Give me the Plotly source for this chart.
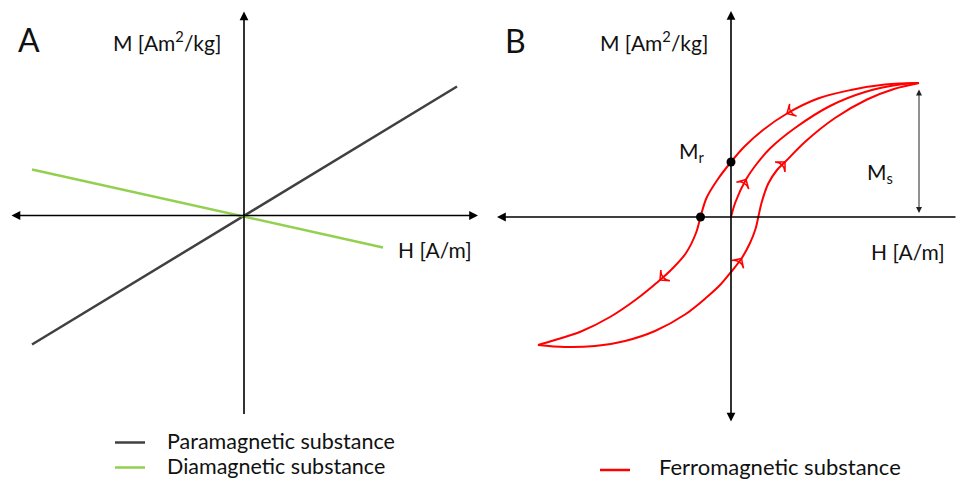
import math
import plotly.graph_objects as go

# ---------------- data (schematic units, origin at the axes crossing) ----------------
# Panel A: straight M(H) lines
para_H = [-21.2, 21.3]
para_M = [-12.9, 12.9]
dia_H = [-21.2, 13.9]
dia_M = [4.6, -3.2]

# Panel B: hysteresis loop
desc_H = [18.8, 15.4, 12.0, 8.7, 5.6, 3.2, 1.3, 0.0, -1.3, -2.45, -3.05, -3.5, -4.5, -5.9, -7.1, -9.5, -12.1, -15.0, -17.6, -19.3]
desc_M = [13.4, 13.24, 12.7, 11.85, 10.35, 8.7, 7.0, 5.5, 3.8, 1.9, 0.0, -1.6, -3.6, -5.2, -6.3, -8.25, -10.0, -11.45, -12.3, -12.8]
asc_H = [-19.3, -16.6, -13.6, -10.6, -7.6, -4.6, -2.4, -1.0, 0.0, 1.05, 1.9, 2.45, 2.73, 3.05, 3.73, 4.6, 5.4, 7.5, 10.4, 13.6, 16.3, 18.8]
asc_M = [-12.8, -13.0, -12.9, -12.4, -11.4, -9.75, -8.0, -6.7, -5.5, -4.15, -2.6, -1.2, 0.0, 1.4, 3.35, 4.7, 5.5, 7.6, 9.9, 11.75, 12.8, 13.4]
virgin_H = [0.0, 0.45, 1.5, 2.6, 3.9, 6.4, 9.9, 13.4, 16.9, 18.8]
virgin_M = [0.0, 1.5, 3.75, 5.35, 6.85, 8.9, 11.1, 12.5, 13.25, 13.4]
desc_arrows = [4, 14]
asc_arrows = [9, 16]
virgin_arrows = [2]

Mr_point = (0.0, 5.5)      # remanence
Hc_point = (-3.05, 0.0)    # coercivity
Ms_H = 18.8
Ms_value = 13.4

# axis extents
A_H_ext = (-23.4, 23.4)
A_M_ext = (-20.0, 20.4)
B_H_ext = (-23.4, 22.6)
B_M_ext = (-20.6, 20.6)

GRAY = "#404040"
GREEN = "#92D050"
RED = "#FF0000"
TXT = "#111111"
FONT = "Lato"

fig = go.Figure()

# panel A lines
fig.add_trace(go.Scatter(x=para_H, y=para_M, mode="lines", line=dict(color=GRAY, width=2.5),
                         xaxis="x", yaxis="y", showlegend=False, hoverinfo="skip"))
fig.add_trace(go.Scatter(x=dia_H, y=dia_M, mode="lines", line=dict(color=GREEN, width=2.5),
                         xaxis="x", yaxis="y", showlegend=False, hoverinfo="skip"))

# panel B curves
for hs, ms in [(desc_H, desc_M), (asc_H, asc_M), (virgin_H, virgin_M)]:
    fig.add_trace(go.Scatter(x=hs, y=ms, mode="lines", line=dict(color=RED, width=2, shape="spline", smoothing=1.0),
                             xaxis="x2", yaxis="y2", showlegend=False, hoverinfo="skip"))

# direction arrows on the curves
ax_, ay_, ang_ = [], [], []
for hs, ms, idxs in [(desc_H, desc_M, desc_arrows), (asc_H, asc_M, asc_arrows), (virgin_H, virgin_M, virgin_arrows)]:
    for i in idxs:
        dh = hs[i + 1] - hs[i - 1]
        dm = ms[i + 1] - ms[i - 1]
        ax_.append(hs[i]); ay_.append(ms[i])
        ang_.append(math.degrees(math.atan2(dh, dm)))
fig.add_trace(go.Scatter(x=ax_, y=ay_, mode="markers",
                         marker=dict(symbol="arrow-wide-open", size=10, angle=ang_, color=RED,
                                     line=dict(color=RED, width=1.5)),
                         xaxis="x2", yaxis="y2", showlegend=False, hoverinfo="skip"))

# Mr and Hc dots
fig.add_trace(go.Scatter(x=[Mr_point[0], Hc_point[0]], y=[Mr_point[1], Hc_point[1]], mode="markers",
                         marker=dict(color="black", size=9), xaxis="x2", yaxis="y2",
                         showlegend=False, hoverinfo="skip"))

ann = []

def axis_arrow(xr, yr, x0, y0, x1, y1, side="end+start"):
    ann.append(dict(xref=xr, yref=yr, axref=xr, ayref=yr, x=x1, y=y1, ax=x0, ay=y0, text="",
                    showarrow=True, arrowhead=2, arrowsize=1.1, arrowwidth=1.6,
                    arrowcolor="black", arrowside=side, standoff=0, startstandoff=0))

# panel A axes
axis_arrow("x", "y", A_H_ext[0], 0, A_H_ext[1], 0)
axis_arrow("x", "y", 0, A_M_ext[0], 0, A_M_ext[1], side="end")
# panel B axes
axis_arrow("x2", "y2", B_H_ext[1], 0, B_H_ext[0], 0, side="end")
axis_arrow("x2", "y2", 0, B_M_ext[0], 0, B_M_ext[1])
# Ms double arrow
ann.append(dict(xref="x2", yref="y2", axref="x2", ayref="y2", x=Ms_H, y=0.4, ax=Ms_H, ay=Ms_value - 0.5,
                text="", showarrow=True, arrowhead=2, arrowsize=1.2, arrowwidth=1,
                arrowcolor="#222", arrowside="end+start", standoff=0, startstandoff=0))

def label(xr, yr, x, y, text, size=21, xanchor="center"):
    ann.append(dict(xref=xr, yref=yr, x=x, y=y, text=text, showarrow=False,
                    font=dict(family=FONT, size=size, color=TXT), xanchor=xanchor, yanchor="middle"))

label("x", "y", -21.5, 17.6, "A", size=32)
label("x", "y", -7.7, 17.5, "M [Am<sup>2</sup>/kg]")
label("x", "y", 19.1, -3.4, "H [A/m]")
label("x2", "y2", -21.6, 17.7, "B", size=32)
label("x2", "y2", -7.7, 17.6, "M [Am<sup>2</sup>/kg]")
label("x2", "y2", 17.7, -3.4, "H [A/m]")
label("x2", "y2", -3.9, 6.5, "M<sub>r</sub>")
label("x2", "y2", 14.9, 4.4, "M<sub>s</sub>")

# legend-like keys
leg_A = [("Paramagnetic substance", GRAY, -22.5), ("Diamagnetic substance", GREEN, -25.0)]
for name, col, m in leg_A:
    fig.add_trace(go.Scatter(x=[-12.9, -9.9], y=[m - 0.2, m - 0.2], mode="lines", line=dict(color=col, width=2.5),
                             xaxis="x", yaxis="y", showlegend=False, hoverinfo="skip"))
    label("x", "y", -7.9, m, name, size=21.5, xanchor="left")
fig.add_trace(go.Scatter(x=[-13.1, -10.1], y=[-25.3, -25.3], mode="lines", line=dict(color=RED, width=2.5),
                         xaxis="x2", yaxis="y2", showlegend=False, hoverinfo="skip"))
label("x2", "y2", -7.4, -24.9, "Ferromagnetic substance", size=22, xanchor="left")

hidden = dict(visible=False, fixedrange=True)
fig.update_layout(
    width=956, height=479, margin=dict(l=0, r=0, t=0, b=0),
    paper_bgcolor="white", plot_bgcolor="white",
    xaxis=dict(domain=[0, 480 / 956], range=[-24.4, 23.6], **hidden),
    yaxis=dict(domain=[0, 1], range=[-26.35, 21.55], **hidden),
    xaxis2=dict(domain=[480 / 956, 1], range=[-25.1, 22.5], **hidden),
    yaxis2=dict(domain=[0, 1], range=[-26.2, 21.7], anchor="x2", **hidden),
    annotations=ann,
    showlegend=False,
)
fig.write_html("out.html")
